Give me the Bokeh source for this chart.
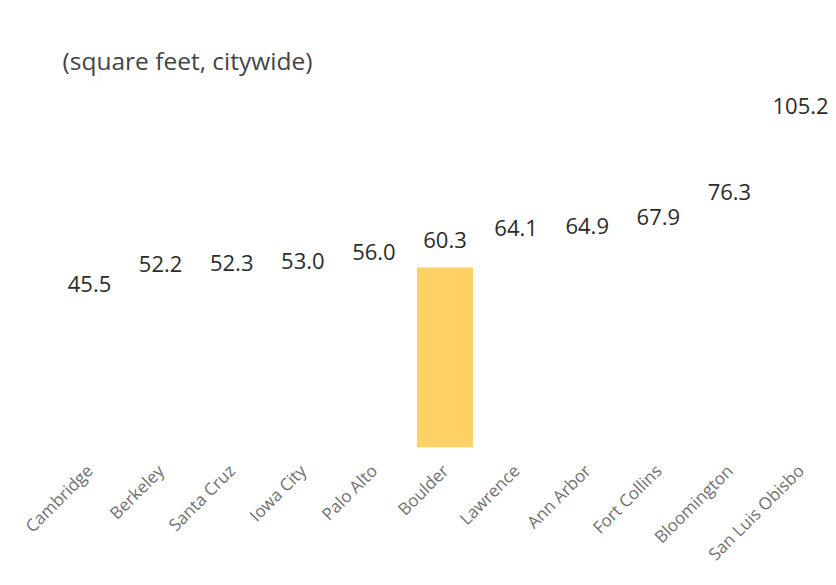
from bokeh.plotting import figure
from bokeh.models import ColumnDataSource, Range1d, Label, LabelSet, FixedTicker
from bokeh.core.properties import value
from bokeh.embed import file_html
from bokeh.resources import INLINE
import math

cities = ["Cambridge", "Berkeley", "Santa Cruz", "Iowa City", "Palo Alto", "Boulder",
          "Lawrence", "Ann Arbor", "Fort Collins", "Bloomington", "San Luis Obisbo"]
values = [45.5, 52.2, 52.3, 53.0, 56.0, 60.3, 64.1, 64.9, 67.9, 76.3, 105.2]
highlight = "Boulder"

xs = list(range(len(cities)))
colors = ["#FDD166" if c == highlight else "#FFFFFF" for c in cities]
labels = [f"{v:.1f}" for v in values]

src = ColumnDataSource(dict(x=xs, top=values, color=colors, label=labels, city=cities))

p = figure(frame_width=836, frame_height=439, output_backend="svg", toolbar_location=None,
           x_range=Range1d(-1.252, 10.506), y_range=Range1d(0, 147.1),
           min_border_left=0, min_border_right=0, min_border_top=8, min_border_bottom=0)

p.vbar(x="x", top="top", bottom=0, width=0.79, fill_color="color", line_color=None, source=src)

p.add_layout(LabelSet(x="x", y="top", text="label", source=src, text_align="center",
                      text_baseline="bottom", y_offset=20, text_font=value("Open Sans"),
                      text_font_size="22px", text_color="#2b2b2b"))

p.add_layout(Label(x=62, y=387, x_units="screen", y_units="screen",
                   text="(square feet, citywide)", text_font="Open Sans",
                   text_font_size="24.5px", text_color="#444444", text_baseline="middle"))

p.yaxis.visible = False
p.xaxis.ticker = FixedTicker(ticks=xs)
p.xaxis.major_label_overrides = {i: c for i, c in zip(xs, cities)}
p.xaxis.major_label_orientation = math.pi / 4
p.xaxis.major_label_text_font = "Open Sans"
p.xaxis.major_label_text_font_size = "17px"
p.xaxis.major_label_text_color = "#707070"
p.xaxis.major_label_standoff = 14
p.xaxis.axis_line_color = None
p.xaxis.major_tick_line_color = None
p.xaxis.minor_tick_line_color = None
p.xgrid.visible = False
p.ygrid.visible = False
p.outline_line_color = None
p.background_fill_color = "white"
p.border_fill_color = "white"

open("out.html", "w").write(file_html(p, INLINE))
